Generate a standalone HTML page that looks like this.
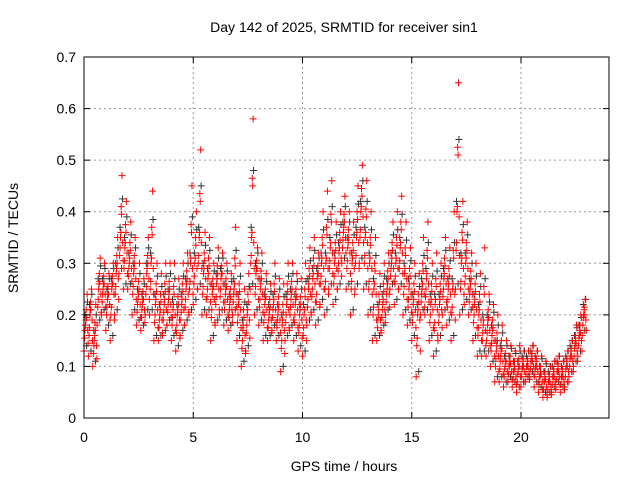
<!DOCTYPE html>
<html><head><meta charset="utf-8"><style>
body{margin:0;background:#fff;}
svg text{font-family:"Liberation Sans",sans-serif;font-size:14px;fill:#000;}
</style></head><body>
<svg id="chart" width="640" height="480" viewBox="0 0 640 480" xmlns="http://www.w3.org/2000/svg">
<rect width="640" height="480" fill="#fff"/>
<text x="344" y="32" text-anchor="middle">Day 142 of 2025, SRMTID for receiver sin1</text>
<g id="grid"></g>
<g id="black"></g>
<g id="red"></g>
<rect x="84" y="57" width="525" height="361" fill="none" stroke="#000" stroke-width="1"/>
<g id="ticks"></g>
<text x="344" y="471" text-anchor="middle">GPS time / hours</text>
<text transform="translate(18,238) rotate(-90)" text-anchor="middle">SRMTID / TECUs</text>
</svg>
<script>
const xTicks=[0,5,10,15,20];
const yTicks=[0,0.1,0.2,0.3,0.4,0.5,0.6,0.7];
const yLabels=["0","0.1","0.2","0.3","0.4","0.5","0.6","0.7"];
const hours=[0,0.2,0.4,0.6,0.8,1.0,1.2,1.4,1.6,1.8,2.0,2.2,2.4,2.6,2.8,3.0,3.2,3.4,3.6,3.8,4.0,4.2,4.4,4.6,4.8,5.0,5.2,5.4,5.6,5.8,6.0,6.2,6.4,6.6,6.8,7.0,7.2,7.4,7.6,7.8,8.0,8.2,8.4,8.6,8.8,9.0,9.2,9.4,9.6,9.8,10.0,10.2,10.4,10.6,10.8,11.0,11.2,11.4,11.6,11.8,12.0,12.2,12.4,12.6,12.8,13.0,13.2,13.4,13.6,13.8,14.0,14.2,14.4,14.6,14.8,15.0,15.2,15.4,15.6,15.8,16.0,16.2,16.4,16.6,16.8,17.0,17.2,17.4,17.6,17.8,18.0,18.2,18.4,18.6,18.8,19.0,19.2,19.4,19.6,19.8,20.0,20.2,20.4,20.6,20.8,21.0,21.2,21.4,21.6,21.8,22.0,22.2,22.4,22.6,22.8];
const lo=[.13,.12,.1,.18,.2,.17,.15,.2,.28,.25,.25,.2,.18,.17,.2,.2,.15,.15,.16,.18,.15,.13,.16,.18,.2,.22,.25,.2,.2,.15,.18,.2,.18,.17,.2,.15,.1,.13,.25,.2,.18,.15,.15,.17,.15,.09,.15,.17,.15,.13,.12,.18,.2,.18,.22,.2,.25,.22,.25,.3,.25,.2,.25,.3,.25,.2,.15,.15,.17,.2,.25,.22,.25,.2,.18,.15,.08,.2,.2,.15,.12,.15,.2,.18,.15,.25,.2,.22,.2,.15,.12,.12,.12,.1,.07,.07,.06,.07,.06,.05,.06,.07,.08,.06,.05,.04,.04,.05,.06,.05,.06,.08,.1,.12,.16];
const mid=[.18,.2,.15,.25,.25,.23,.25,.28,.35,.33,.3,.28,.23,.22,.28,.3,.22,.2,.22,.23,.21,.2,.22,.25,.3,.3,.35,.28,.27,.24,.26,.27,.24,.22,.25,.22,.17,.2,.35,.28,.25,.22,.2,.22,.2,.18,.22,.23,.22,.2,.2,.25,.27,.27,.3,.3,.33,.3,.32,.36,.33,.3,.35,.4,.35,.3,.25,.2,.22,.25,.3,.3,.33,.28,.25,.22,.2,.25,.27,.22,.22,.22,.27,.25,.25,.4,.3,.3,.25,.22,.2,.18,.18,.16,.13,.12,.1,.1,.09,.09,.1,.1,.11,.1,.08,.07,.07,.08,.09,.08,.1,.12,.14,.16,.2];
const hi=[.24,.25,.22,.31,.3,.28,.3,.35,.47,.42,.38,.35,.3,.27,.35,.44,.3,.28,.3,.3,.3,.27,.3,.32,.45,.4,.52,.36,.35,.3,.33,.32,.3,.28,.37,.3,.25,.28,.58,.33,.32,.28,.26,.3,.27,.26,.3,.3,.28,.27,.3,.33,.35,.32,.4,.44,.46,.38,.4,.43,.4,.38,.45,.49,.46,.4,.35,.28,.3,.32,.38,.4,.43,.38,.33,.3,.28,.35,.38,.3,.32,.3,.35,.33,.4,.65,.42,.38,.32,.3,.28,.33,.24,.22,.2,.18,.15,.14,.13,.14,.13,.13,.14,.13,.12,.11,.1,.11,.12,.11,.13,.15,.18,.2,.23];
const X=h=>84+h*21.85;
const Y=v=>418-v*515.7;
const NS="http://www.w3.org/2000/svg";
const grid=document.getElementById('grid'),ticks=document.getElementById('ticks');
function ln(g,x1,y1,x2,y2,st,dash){const l=document.createElementNS(NS,'line');l.setAttribute('x1',x1);l.setAttribute('y1',y1);l.setAttribute('x2',x2);l.setAttribute('y2',y2);l.setAttribute('stroke',st);if(dash)l.setAttribute('stroke-dasharray',dash);g.appendChild(l);return l;}
function tx(x,y,s,a){const t=document.createElementNS(NS,'text');t.setAttribute('x',x);t.setAttribute('y',y);t.setAttribute('text-anchor',a);t.textContent=s;ticks.appendChild(t);return t;}
xTicks.forEach(v=>{const x=X(v);
 const g=ln(grid,x,57,x,418,'#999','2,3');
 
 
 ln(ticks,x,418,x,412,'#000');ln(ticks,x,57,x,63,'#000');
 const t=tx(x,442,String(v),'middle');
 
 });
yTicks.forEach((v,i)=>{const y=Y(v);
 const g=ln(grid,84,y,609,y,'#999','2,3');
 
 
 ln(ticks,84,y,90,y,'#000');ln(ticks,609,y,603,y,'#000');
 const t=tx(76,y+5,yLabels[i],'end');
 
 });
function cross(g,x,y,c){const p=document.createElementNS(NS,'path');p.setAttribute('d',`M${x-3.5},${y}h7M${x},${y-3.5}v7`);p.setAttribute('stroke',c);p.setAttribute('stroke-width','1');
 
 
 g.appendChild(p);}
const black=document.getElementById('black'),red=document.getElementById('red');
hours.forEach((h,i)=>{
 cross(black,X(h+0.05),Y(mid[i]+0.02),'#333');
 cross(black,X(h+0.12),Y(lo[i]+0.01),'#333');
 cross(black,X(h+0.16),Y((mid[i]+hi[i])/2+0.015),'#333');
 cross(red,X(h),Y(lo[i]),'#f00');
 cross(red,X(h+0.03),Y((lo[i]+mid[i])/2),'#f00');
 cross(red,X(h+0.07),Y(mid[i]),'#f00');
 cross(red,X(h+0.1),Y((mid[i]+hi[i])/2),'#f00');
 cross(red,X(h+0.14),Y(hi[i]),'#f00');
 cross(red,X(h+0.17),Y(mid[i]-0.01),'#f00');
 cross(red,X(h+0.05),Y((lo[i]+mid[i])/2+0.015),'#f00');
 cross(red,X(h+0.12),Y((mid[i]+hi[i])/2-0.015),'#f00');
 cross(red,X(h+0.19),Y((lo[i]+mid[i])/2-0.01),'#f00');
 cross(red,X(h+0.09),Y(mid[i]+0.01),'#f00');
});
</script>
</body></html>
